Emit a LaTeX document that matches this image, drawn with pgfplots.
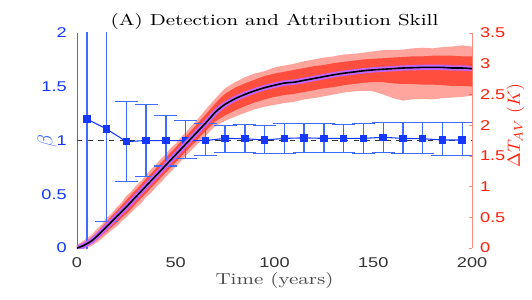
\documentclass[border=0pt]{standalone}
\usepackage{pgfplots}
\pgfplotsset{compat=1.18}
\usepackage{pgfplotstable}
\usepgfplotslibrary{fillbetween}
\usepackage{fontspec}
\newfontfamily\sans{Liberation Sans}
\definecolor{bblue}{rgb}{0.08,0.22,1}
\definecolor{lblue}{rgb}{0.25,0.42,1}
\definecolor{rred}{rgb}{1,0.12,0.04}
\definecolor{rline}{rgb}{1,0.55,0.5}
\definecolor{vio}{rgb}{0.76,0.4,1}

\pgfplotstableread{
t M ol il iu ou
0 0 -0.04 -0.02 0.02 0.05
2.5 0.03 -0.03 0.0 0.07 0.1
5 0.07 0.0 0.03 0.12 0.16
7.5 0.12 0.04 0.07 0.17 0.22
10 0.19 0.09 0.13 0.25 0.31
12.5 0.27 0.15 0.20 0.34 0.38
15 0.35 0.22 0.27 0.43 0.49
17.5 0.43 0.29 0.34 0.52 0.56
20 0.51 0.35 0.41 0.60 0.66
22.5 0.59 0.43 0.49 0.69 0.74
25 0.67 0.50 0.56 0.78 0.85
27.5 0.755 0.58 0.64 0.87 0.92
30 0.84 0.66 0.73 0.95 1.02
32.5 0.925 0.73 0.81 1.04 1.09
35 1.01 0.83 0.89 1.13 1.19
37.5 1.095 0.90 0.98 1.21 1.28
40 1.18 0.99 1.06 1.30 1.36
42.5 1.265 1.07 1.15 1.38 1.45
45 1.35 1.16 1.23 1.47 1.53
47.5 1.435 1.24 1.31 1.56 1.63
50 1.52 1.33 1.40 1.64 1.70
52.5 1.605 1.41 1.48 1.73 1.80
55 1.69 1.50 1.57 1.81 1.88
57.5 1.775 1.58 1.65 1.90 1.97
60 1.86 1.66 1.73 1.99 2.06
62.5 1.945 1.74 1.82 2.08 2.15
65 2.03 1.82 1.90 2.17 2.25
67.5 2.12 1.91 1.98 2.26 2.34
70 2.21 1.98 2.06 2.35 2.43
72.5 2.28 2.03 2.11 2.44 2.52
75 2.34 2.07 2.16 2.51 2.60
80 2.43 2.14 2.24 2.61 2.70
85 2.50 2.20 2.31 2.68 2.78
90 2.56 2.26 2.37 2.74 2.84
95 2.61 2.30 2.42 2.80 2.88
100 2.65 2.33 2.46 2.84 2.94
105 2.685 2.36 2.49 2.87 2.97
110 2.70 2.38 2.51 2.90 3.00
115 2.73 2.42 2.54 2.93 3.04
120 2.76 2.44 2.57 2.96 3.07
125 2.79 2.47 2.60 2.98 3.10
130 2.82 2.50 2.62 3.01 3.12
135 2.845 2.53 2.65 3.03 3.15
140 2.865 2.55 2.67 3.05 3.16
145 2.885 2.56 2.69 3.07 3.18
150 2.90 2.55 2.70 3.08 3.20
155 2.91 2.50 2.70 3.09 3.22
160 2.92 2.44 2.68 3.10 3.22
165 2.93 2.40 2.67 3.11 3.23
170 2.935 2.42 2.67 3.12 3.25
175 2.94 2.43 2.66 3.12 3.26
180 2.94 2.42 2.66 3.13 3.25
185 2.94 2.44 2.65 3.13 3.27
190 2.93 2.45 2.64 3.13 3.28
195 2.93 2.46 2.64 3.12 3.30
200 2.92 2.48 2.63 3.12 3.28
}\temp

\begin{document}
\begin{tikzpicture}
\begin{axis}[
  at={(0,0)}, anchor=south west, scale only axis,
  width=222.8pt, height=121.3pt,
  xmin=0, xmax=200, ymin=0, ymax=2,
  axis y line*=left, axis x line*=bottom,
  x axis line style={draw=none,-},
  y axis line style={lblue,-},
  xtick={0,50,100,150,200}, ytick={0,0.5,1,1.5,2},
  major tick length=0pt,
  /pgf/number format/assume math mode=true,
  ticklabel style={font=\sans\footnotesize, xscale=1.28},
  yticklabel style={bblue, xshift=-1pt},
  xticklabel style={black!80, yshift=-2pt},
  ylabel={$\beta$}, ylabel style={lblue, font=\large, at={(axis description cs:-0.076,0.5)}, anchor=center},
  xlabel={Time (years)}, xlabel style={black!70, font=\small, xscale=1.28, at={(axis description cs:0.5,-0.15)}, anchor=center},
  title={(A) Detection and Attribution Skill},
  every axis title shift=0pt,
  title style={font=\small, xscale=1.28, at={(axis description cs:0.5,1.033)}, anchor=base},
]
\addplot[black!80, dashed, line width=0.5pt] coordinates {(0,1) (200,1)};
\addplot[bblue, line width=0.6pt, mark=square*, mark size=1.8pt, mark options={bblue},
  error bars/.cd, y dir=both, y explicit,
  error bar style={lblue, line width=0.75pt},
  error mark options={rotate=90, lblue, mark size=6.5pt, line width=0.75pt}]
coordinates {
(5,1.2) += (0,1.5) -= (0,1.3)
(15,1.107) += (0,1.5) -= (0,0.857)
(25,0.99) += (0,0.37) -= (0,0.373)
(35,1.0) += (0,0.333) -= (0,0.337)
(45,1.0) += (0,0.234) -= (0,0.237)
(55,1.0) += (0,0.184) -= (0,0.166)
(65,1.0) += (0,0.16) -= (0,0.14)
(75,1.02) += (0,0.12) -= (0,0.13)
(85,1.017) += (0,0.133) -= (0,0.127)
(95,1.005) += (0,0.135) -= (0,0.125)
(105,1.02) += (0,0.14) -= (0,0.14)
(115,1.025) += (0,0.135) -= (0,0.135)
(125,1.02) += (0,0.14) -= (0,0.13)
(135,1.02) += (0,0.13) -= (0,0.13)
(145,1.02) += (0,0.14) -= (0,0.14)
(155,1.03) += (0,0.14) -= (0,0.14)
(165,1.02) += (0,0.15) -= (0,0.14)
(175,1.017) += (0,0.153) -= (0,0.137)
(185,1.005) += (0,0.165) -= (0,0.145)
(195,1.005) += (0,0.165) -= (0,0.145)
};
\end{axis}
\begin{axis}[
  at={(0,0)}, anchor=south west, scale only axis,
  width=222.8pt, height=121.3pt,
  xmin=0, xmax=200, ymin=0, ymax=3.5,
  axis y line*=right, axis x line=none,
  y axis line style={rline,-},
  ytick={0,0.5,1,1.5,2,2.5,3,3.5},
  /pgf/number format/assume math mode=true,
  yticklabel style={rred, font=\sans\footnotesize, xscale=1.28},
  ytick style={rline}, major tick length=2pt, tick align=inside,
  ylabel={$\Delta T_{AV}\ (K)$}, ylabel style={rred, font=\normalsize, at={(axis description cs:1.11,0.57)}, anchor=center},
]
\addplot[name path=ou, draw=none] table[x=t,y=ou] {\temp};
\addplot[name path=ol, draw=none] table[x=t,y=ol] {\temp};
\addplot[name path=iu, draw=none] table[x=t,y=iu] {\temp};
\addplot[name path=il, draw=none] table[x=t,y=il] {\temp};
\addplot[rred, opacity=0.4] fill between[of=ou and ol];
\addplot[rred, opacity=0.65] fill between[of=iu and il];
\addplot[vio, line width=3pt, smooth] table[x=t,y=M] {\temp};
\addplot[black, line width=0.9pt, smooth] table[x=t,y=M] {\temp};
\end{axis}
\pgfresetboundingbox
\useasboundingbox (-43.4pt,-28.8pt) rectangle (256.6pt,139.9pt);
\end{tikzpicture}
\end{document}
